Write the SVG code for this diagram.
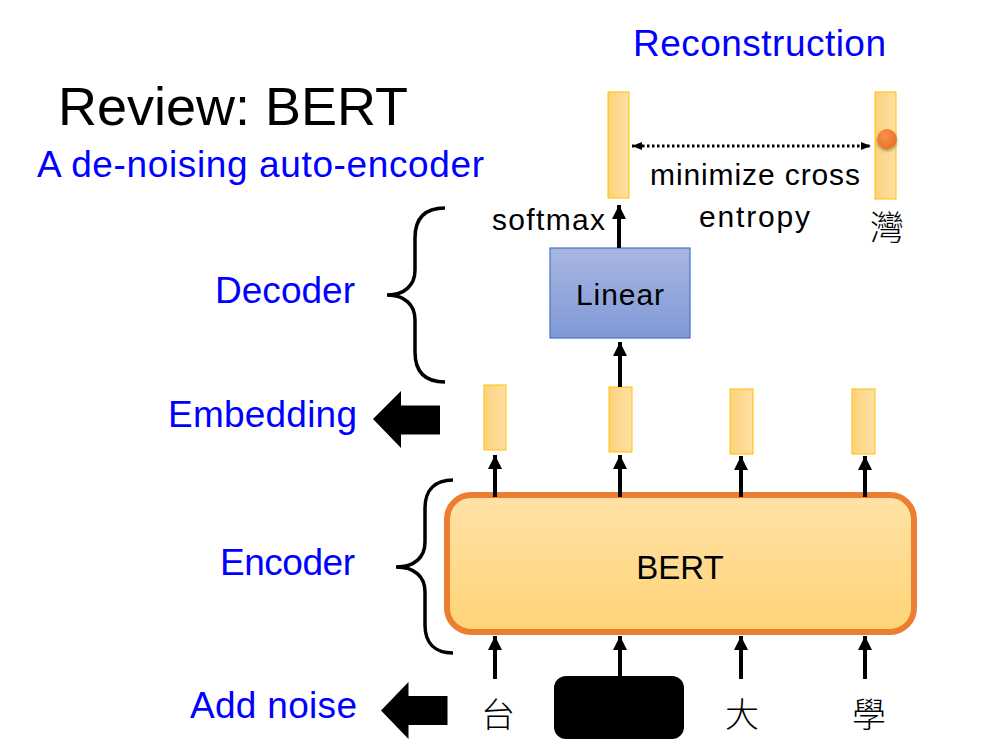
<svg xmlns="http://www.w3.org/2000/svg" width="992" height="751" viewBox="0 0 992 751">
<defs>
<linearGradient id="vecG" x1="0" y1="0" x2="1" y2="0">
<stop offset="0" stop-color="#fdd27c"/><stop offset="1" stop-color="#fee0a4"/>
</linearGradient>
<linearGradient id="bertG" x1="0" y1="0" x2="0" y2="1">
<stop offset="0" stop-color="#ffe2a6"/><stop offset="1" stop-color="#ffd477"/>
</linearGradient>
<linearGradient id="linG" x1="0" y1="0" x2="0" y2="1">
<stop offset="0" stop-color="#a9b6e1"/><stop offset="1" stop-color="#7f99d6"/>
</linearGradient>
<radialGradient id="dotG" cx="0.4" cy="0.35" r="0.7">
<stop offset="0" stop-color="#f5924f"/><stop offset="1" stop-color="#e8701f"/>
</radialGradient>
<filter id="shadow" x="-50%" y="-50%" width="200%" height="200%">
<feDropShadow dx="0" dy="2" stdDeviation="1.5" flood-color="#000" flood-opacity="0.35"/>
</filter>
<marker id="ah" markerUnits="userSpaceOnUse" markerWidth="14" markerHeight="14" viewBox="0 0 14 14" refX="14" refY="7" orient="auto">
<path d="M0,0 L14,7 L0,14 z" fill="#000"/>
</marker>
<marker id="sh" markerUnits="userSpaceOnUse" markerWidth="10" markerHeight="10" viewBox="0 0 10 10" refX="10" refY="5" orient="auto-start-reverse">
<path d="M0,1 L10,5 L0,9 z" fill="#000"/>
</marker>
</defs>
<style>
text{font-family:"Liberation Sans","Noto Sans CJK TC",sans-serif;}
.blue{fill:#0000ff;font-size:37px;}
.blk{fill:#000;}
.vec{fill:url(#vecG);stroke:#ffc000;stroke-width:1;}
.arr{stroke:#000;stroke-width:4;fill:none;marker-end:url(#ah);}
.brace{stroke:#000;stroke-width:3.5;fill:none;}
.cjk{font-family:"Noto Sans CJK TC","Noto Sans CJK SC",sans-serif;font-size:34px;font-weight:300;fill:#000;}
</style>
<rect width="992" height="751" fill="#fff"/>

<g id="title">
<text x="58" y="125" font-size="54" class="blk">Review: BERT</text>
<text x="37" y="177" class="blue" textLength="447">A de-noising auto-encoder</text>
<text x="633" y="56" class="blue" textLength="253">Reconstruction</text>
</g>

<g id="labels">
<text x="215" y="303" class="blue" textLength="140">Decoder</text>
<text x="168" y="427" class="blue" textLength="189">Embedding</text>
<text x="220" y="575" class="blue" textLength="135">Encoder</text>
<text x="190" y="718" class="blue" textLength="167">Add noise</text>
</g>

<g id="braces">
<path class="brace" d="M445,208 C425,208 415,218 415,238 L415,270 C415,285 405,295 387,295 C405,295 415,305 415,320 L415,352 C415,372 425,382 445,382"/>
<path class="brace" d="M453,480 C435,480 425,490 425,508 L425,542 C425,557 415,567 396,567 C415,567 425,577 425,592 L425,625 C425,643 435,653 453,653"/>
</g>

<g id="bigArrows">
<polygon points="373,419 401,391 401,405.5 440,405.5 440,434.5 401,434.5 401,448" fill="#000"/>
<polygon points="381,710.5 408.5,682 408.5,696 447.5,696 447.5,725 408.5,725 408.5,739" fill="#000"/>
</g>

<g id="outVecs">
<rect id="outVec1" class="vec" x="608" y="92" width="21" height="106"/>
<rect id="outVec2" class="vec" x="875" y="92" width="21" height="107"/>
<circle cx="887" cy="139" r="10" fill="url(#dotG)" filter="url(#shadow)"/>
<text x="650" y="185" font-size="30" class="blk" textLength="210">minimize cross</text>
<text x="699" y="227" font-size="30" class="blk" textLength="111">entropy</text>
<text x="887" y="240" text-anchor="middle" class="cjk" font-size="25">灣</text>
<text x="492" y="230" font-size="30" class="blk" textLength="113">softmax</text>
</g>

<g id="linear">
<rect x="550" y="248" width="140" height="90" fill="url(#linG)" stroke="#4472c4" stroke-width="1.2"/>
<text x="576" y="305" font-size="30" class="blk" textLength="88">Linear</text>
</g>

<g id="embeddings">
<rect class="vec" x="484" y="385" width="22" height="65"/>
<rect class="vec" x="609" y="387" width="23" height="65"/>
<rect class="vec" x="730" y="389" width="23" height="65"/>
<rect class="vec" x="852" y="389" width="23" height="65"/>
</g>

<g id="bert">
<rect x="447" y="495" width="467" height="137" rx="24" ry="24" fill="url(#bertG)" stroke="#ed7d31" stroke-width="6"/>
<text x="680" y="579" text-anchor="middle" font-size="33" class="blk">BERT</text>
</g>

<g id="inputs">
<text x="498" y="727" text-anchor="middle" class="cjk">台</text>
<rect id="mask" x="554" y="676" width="130" height="63" rx="12" ry="12" fill="#000"/>
<text x="742" y="727" text-anchor="middle" class="cjk">大</text>
<text x="869" y="727" text-anchor="middle" class="cjk">學</text>
</g>

<g id="connectors">
<line class="arr" x1="619" y1="248" x2="619" y2="205"/>
<line class="arr" x1="620" y1="387" x2="620" y2="342"/>
<line class="arr" x1="495" y1="497" x2="495" y2="455"/>
<line class="arr" x1="620" y1="497" x2="620" y2="455"/>
<line class="arr" x1="741" y1="497" x2="741" y2="456"/>
<line class="arr" x1="865" y1="497" x2="865" y2="456"/>
<line class="arr" x1="495" y1="679" x2="495" y2="636"/>
<line class="arr" x1="620" y1="677" x2="620" y2="636"/>
<line class="arr" x1="741" y1="679" x2="741" y2="636"/>
<line class="arr" x1="865" y1="679" x2="865" y2="636"/>
<line x1="632" y1="146" x2="871" y2="146" stroke="#000" stroke-width="3" stroke-dasharray="2.5 2.5" marker-start="url(#sh)" marker-end="url(#sh)"/>
</g>
</svg>
